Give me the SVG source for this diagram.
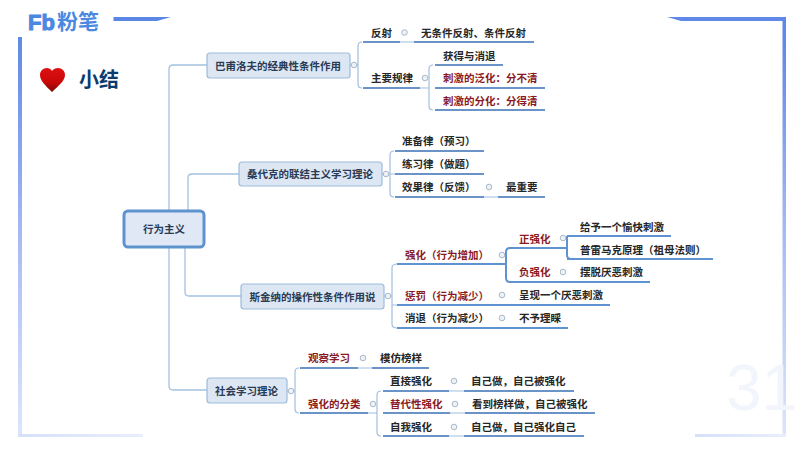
<svg xmlns="http://www.w3.org/2000/svg" width="800" height="450" viewBox="0 0 800 450">
<style>
text{font-family:"Noto Sans CJK SC","Noto Sans",sans-serif;font-size:10.5px;font-weight:700;fill:#262626}
.r{fill:#8a1a1f}
.t{fill:#2a3b55;font-size:10.5px;text-anchor:middle}
.m{fill:#dde7f3;stroke:#9dbbdc;stroke-width:1.2}
.u{stroke:#6a94c8;stroke-width:1.8;fill:none}
.s{stroke:#5f92d0;stroke-width:2;fill:none}
.c{stroke:#a3c2e0;stroke-width:1.3;fill:none}
.l{stroke:#9fbfe0;stroke-width:1.2;fill:none}
.d{fill:#eef2f7;stroke:#a9b8c8;stroke-width:1}
</style>
<defs>
<linearGradient id="v" x1="0" y1="0" x2="0" y2="1"><stop offset="0" stop-color="#5f88e8"/><stop offset="0.55" stop-color="#aebff5"/><stop offset="1" stop-color="#dce6fa"/></linearGradient>
<linearGradient id="h" x1="0" y1="0" x2="1" y2="0"><stop offset="0" stop-color="#d5e0f9"/><stop offset="1" stop-color="#e8eefc"/></linearGradient>
<linearGradient id="heart" x1="0" y1="0" x2="0" y2="1"><stop offset="0" stop-color="#e01010"/><stop offset="0.6" stop-color="#c80808"/><stop offset="1" stop-color="#800808"/></linearGradient>
</defs>
<rect width="800" height="450" fill="#fff"/>
<g id="frame">
<rect x="18" y="37" width="4" height="400" fill="url(#v)"/>
<rect x="18" y="434" width="125" height="3" fill="url(#h)"/>
<path d="M113.500 17H171L157 21H113.500Z" fill="#5a86e6"/>
<path d="M667 17H786V37H782.500V21H681Z" fill="#5f88e8"/>
<rect x="782.500" y="37" width="3.500" height="400" fill="url(#v)"/>
<rect x="695" y="434" width="91" height="3" fill="url(#h)"/>
<text x="726" y="410" style="font-family:'Liberation Sans',sans-serif;font-size:64px;font-weight:400;fill:#f3f5fc">31</text>
</g>
<g id="logo">
<text x="28" y="30" style="font-family:'Liberation Sans',sans-serif;font-size:22px;font-weight:700;fill:#4a88e2;stroke:#4a88e2;stroke-width:1">Fb</text>
<text x="57" y="29" style="font-size:21px;font-weight:700;fill:#4a88e2">粉笔</text>
</g>
<g id="title">
<path d="M52 92C46 86 40 81 40 75C40 71 43 68 47 68C49 68 51 69 52 71C53 69 56 68 58 68C62 68 65 71 65 75C65 81 58 86 52 92Z" fill="url(#heart)"/>
<text x="79" y="87" style="font-size:20px;font-weight:700;fill:#0b3c6f">小结</text>
</g>
<g id="connectors">
<path class="c" d="M169 211V69Q169 65 173 65H207M188 211V178Q188 174 192 174H239M185 247V292Q185 296 189 296H241M169 247V386Q169 390 173 390H207"/>
<path class="l" d="M350 65H358M362 42Q358 42 358 46V84Q358 88 362 88M400 42H414"/>
<path class="l" d="M420 88H429M433 65Q429 65 429 69V106Q429 110 433 110"/>
<path class="l" d="M382 174H390M394 151Q390 151 390 155V193Q390 197 394 197M390 174H395M484 197H498"/>
<path class="l" d="M384 296H392M397 264Q392 264 392 268V324Q392 328 397 328M392 305H397"/>
<path class="s" d="M505 264H506V252Q506 248 510 248H520M506 264V278Q506 282 510 282H520M567 236Q567 236 567 240V255Q567 259 571 259"/>
<path class="l" d="M287 391H295M299 368Q295 368 295 372V409Q295 413 299 413M358 368H372"/>
<path class="l" d="M368 413H377M381 391Q377 391 377 395V432Q377 436 381 436M449 391H464M450 413H465M449 436H464"/>
<g>
<circle class="d" cx="354" cy="65" r="2.800"/><circle class="d" cx="404.500" cy="32.500" r="2.800"/><circle class="d" cx="425" cy="78" r="2.800"/>
<circle class="d" cx="386" cy="174" r="2.800"/><circle class="d" cx="489" cy="187" r="2.800"/>
<circle class="d" cx="388" cy="296" r="2.800"/><circle class="d" cx="502" cy="255" r="2.800"/><circle class="d" cx="502" cy="295" r="2.800"/><circle class="d" cx="502" cy="318" r="2.800"/>
<circle class="d" cx="563" cy="238" r="2.800"/><circle class="d" cx="563" cy="272" r="2.800"/>
<circle class="d" cx="291" cy="391" r="2.800"/><circle class="d" cx="363" cy="358" r="2.800"/><circle class="d" cx="373" cy="404" r="2.800"/>
<circle class="d" cx="454" cy="381" r="2.800"/><circle class="d" cx="455" cy="404" r="2.800"/><circle class="d" cx="454" cy="427" r="2.800"/>
</g>
</g>
<g id="root"><rect x="124" y="211" width="80" height="36" rx="4" fill="#dfe8f4" stroke="#5e93cf" stroke-width="3"/><text class="t" x="164" y="233">行为主义</text></g>
<g id="n1"><rect class="m" x="207" y="53" width="143" height="25" rx="3"/><text class="t" x="278" y="70">巴甫洛夫的经典性条件作用</text></g>
<g id="n2"><rect class="m" x="239" y="162" width="143" height="24" rx="3"/><text class="t" x="310" y="178">桑代克的联结主义学习理论</text></g>
<g id="n3"><rect class="m" x="241" y="284" width="143" height="25" rx="3"/><text class="t" x="312.500" y="301">斯金纳的操作性条件作用说</text></g>
<g id="n4"><rect class="m" x="207" y="378" width="80" height="25" rx="3"/><text class="t" x="246.500" y="395">社会学习理论</text></g>
<g id="n1-a"><path class="u" d="M363 42H400"/><text x="371" y="37">反射</text></g>
<g id="n1-a1"><path class="u" d="M414 42H534"/><text x="421" y="37">无条件反射、条件反射</text></g>
<g id="n1-b"><path class="u" d="M363 88H420"/><text x="371" y="82">主要规律</text></g>
<g id="n1-b1"><path class="u" d="M435 65H503"/><text x="443" y="60">获得与消退</text></g>
<g id="n1-b2"><path class="u" d="M435 88H545"/><text class="r" x="443" y="82">刺激的泛化：分不清</text></g>
<g id="n1-b3"><path class="u" d="M435 110H545"/><text class="r" x="443" y="105">刺激的分化：分得清</text></g>
<g id="n2-a"><path class="u" d="M395 151H484"/><text x="402" y="145">准备律（预习）</text></g>
<g id="n2-b"><path class="u" d="M395 174H484"/><text x="402" y="168">练习律（做题）</text></g>
<g id="n2-c"><path class="u" d="M395 197H484"/><text x="402" y="191">效果律（反馈）</text></g>
<g id="n2-c1"><path class="u" d="M498 197H545"/><text x="506" y="191">最重要</text></g>
<g id="n3-a"><path class="s" d="M397 264H505"/><text class="r" x="405" y="259">强化（行为增加）</text></g>
<g id="n3-a1"><path class="s" d="M510 248H567"/><text class="r" x="519" y="243">正强化</text></g>
<g id="n3-a11"><path class="s" d="M567 236H671"/><text x="580" y="231">给予一个愉快刺激</text></g>
<g id="n3-a12"><path class="s" d="M567 259H713"/><text x="580" y="254">普雷马克原理（祖母法则）</text></g>
<g id="n3-a2"><path class="s" d="M510 282H650"/><text class="r" x="519" y="276">负强化</text><text x="580" y="276">摆脱厌恶刺激</text></g>
<g id="n3-b"><path class="s" d="M397 305H610"/><text class="r" x="405" y="300">惩罚（行为减少）</text><text x="519" y="299">呈现一个厌恶刺激</text></g>
<g id="n3-c"><path class="s" d="M397 328H568"/><text x="405" y="322">消退（行为减少）</text><text x="519" y="322">不予理睬</text></g>
<g id="n4-a"><path class="u" d="M300 368H358"/><text class="r" x="308" y="362">观察学习</text></g>
<g id="n4-a1"><path class="u" d="M372 368H429"/><text x="380" y="362">模仿榜样</text></g>
<g id="n4-b"><path class="u" d="M300 413H368"/><text class="r" x="308" y="408">强化的分类</text></g>
<g id="n4-b1"><path class="u" d="M383 391H449"/><text x="390" y="385">直接强化</text></g>
<g id="n4-b11"><path class="u" d="M464 391H574"/><text x="471" y="385">自己做，自己被强化</text></g>
<g id="n4-b2"><path class="u" d="M383 413H450"/><text class="r" x="390" y="408">替代性强化</text></g>
<g id="n4-b21"><path class="u" d="M465 413H595"/><text x="472" y="408">看到榜样做，自己被强化</text></g>
<g id="n4-b3"><path class="u" d="M383 436H449"/><text x="390" y="431">自我强化</text></g>
<g id="n4-b31"><path class="u" d="M464 436H584"/><text x="471" y="431">自己做，自己强化自己</text></g>
</svg>
